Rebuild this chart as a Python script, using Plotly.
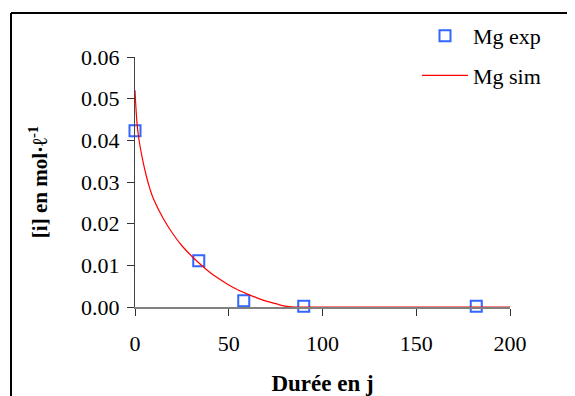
import plotly.graph_objects as go

# Experimental data
exp_days = [0, 34, 58, 90, 182]
exp_conc = [0.0423, 0.0111, 0.0015, 0.0002, 0.0002]

# Simulated curve
sim_days = [0, 1, 2, 4, 6, 8, 10, 15, 20, 25, 30, 35, 40, 45, 50, 55, 60, 65, 70, 75, 80, 85, 100, 150, 200]
sim_conc = [0.052, 0.0445, 0.0405, 0.0355, 0.0315, 0.0283, 0.0258, 0.0213, 0.0177, 0.0147, 0.0123, 0.0102,
            0.0083, 0.0067, 0.0053, 0.0041, 0.0031, 0.0022, 0.0014, 0.0008, 0.0002, 0.0, 0.0, 0.0, 0.0]

x_ticks = [0, 50, 100, 150, 200]
y_ticks = [0.00, 0.01, 0.02, 0.03, 0.04, 0.05, 0.06]

FONT = "Liberation Serif"

fig = go.Figure()
fig.add_trace(go.Scatter(
    x=exp_days, y=exp_conc, mode="markers", name="Mg exp", legendgroup="a",
    marker=dict(symbol="square-open", size=11, color="#3366FF", line=dict(width=2, color="#3366FF")),
    cliponaxis=False,
))
fig.add_trace(go.Scatter(
    x=sim_days, y=sim_conc, mode="lines", name="Mg sim", legendgroup="b",
    line=dict(color="#FF0000", width=1.2), line_shape="spline",
))

OFF = 8  # page offset of the figure in the screenshot
W, H = 575, 396
L, T = 135 - OFF, 57 - OFF
pw, ph = 375, 250
R = W - L - pw
B = H - T - ph


def px(xs):
    return (xs - OFF - L) / pw


def py(ys):
    return (T + ph - (ys - OFF)) / ph


fig.update_layout(
    width=W, height=H,
    margin=dict(l=L, r=R, t=T, b=B, pad=0, autoexpand=False),
    paper_bgcolor="white", plot_bgcolor="white",
    font=dict(family=FONT, size=22, color="black"),
    showlegend=True,
    legend=dict(x=px(417), y=py(15), xanchor="left", yanchor="top",
                font=dict(family=FONT, size=22), tracegroupgap=8, itemwidth=46,
                bgcolor="rgba(0,0,0,0)"),
    xaxis=dict(range=[0, 200], tickvals=x_ticks, ticktext=[str(v) for v in x_ticks],
               showgrid=False, zeroline=False, showline=True, linecolor="#808080", linewidth=2,
               ticks="outside", ticklen=7, tickcolor="#333333", tickwidth=1,
               ticklabelstandoff=9,
               tickfont=dict(family=FONT, size=22),
               title=dict(text="<b>Durée en j</b>", font=dict(family=FONT, size=23), standoff=19)),
    yaxis=dict(range=[0, 0.06], tickvals=y_ticks, ticktext=[f"{v:.2f}" for v in y_ticks],
               showgrid=False, zeroline=False, showline=True, linecolor="#444444", linewidth=1,
               ticks="outside", ticklen=7, tickcolor="#333333", tickwidth=1,
               ticklabelstandoff=3,
               tickfont=dict(family=FONT, size=22),
               title=dict(text="<b>[i] en mol·ℓ<sup>-1</sup></b>", font=dict(family=FONT, size=21), standoff=27)),
    shapes=[
        dict(type="line", xref="paper", yref="paper", x0=px(11), x1=px(11), y0=py(13), y1=py(410),
             line=dict(color="black", width=2)),
        dict(type="line", xref="paper", yref="paper", x0=px(11), x1=px(590), y0=py(13), y1=py(13),
             line=dict(color="black", width=2)),
    ],
)

fig.write_html("out.html")
